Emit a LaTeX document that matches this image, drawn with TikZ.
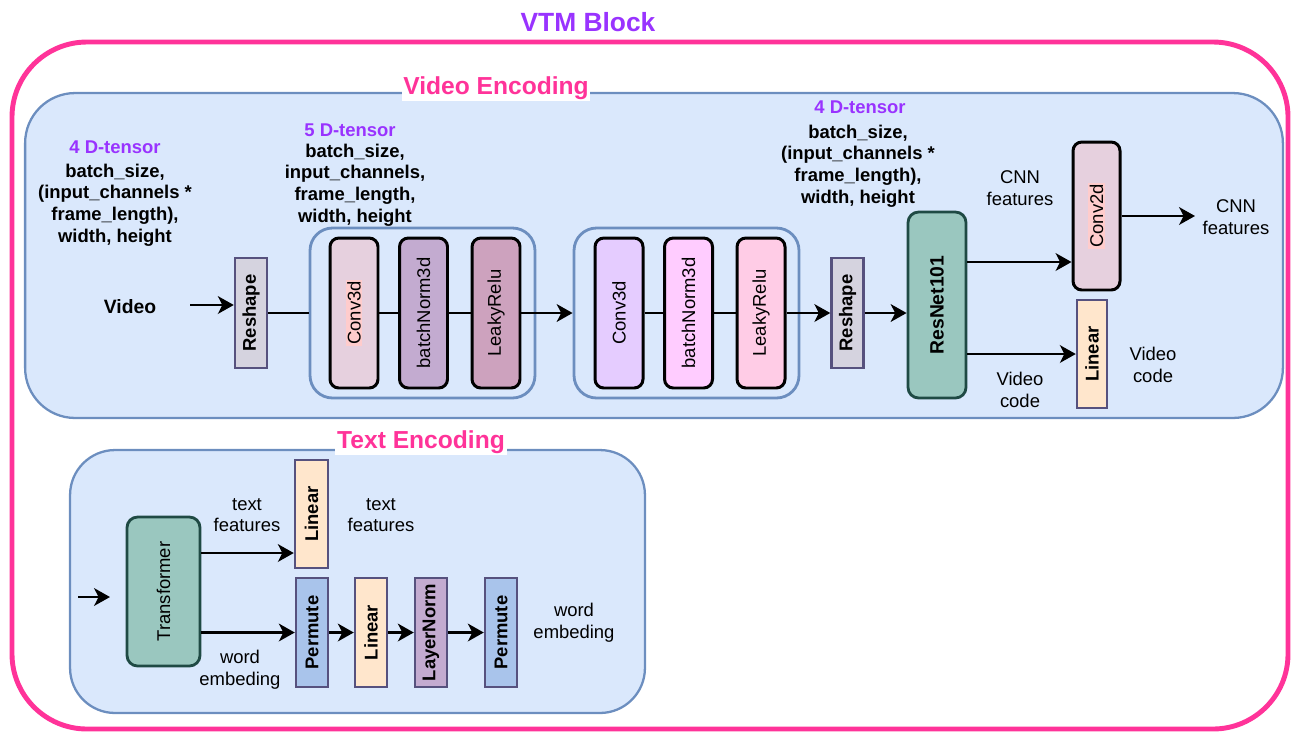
\documentclass[tikz,border=0pt]{standalone}
\usepackage{fontspec}
\setmainfont{Liberation Sans}
\usepackage{graphicx}
\usetikzlibrary{arrows.meta,positioning}
\definecolor{vtmpink}{HTML}{FF3399}
\definecolor{vtmpurple}{HTML}{9933FF}
\definecolor{encfill}{HTML}{DAE8FC}
\definecolor{encline}{HTML}{6C8EBF}
\definecolor{flatline}{HTML}{56517E}
\definecolor{tealfill}{HTML}{9AC7BF}
\definecolor{tealline}{HTML}{1F4A44}
\definecolor{hlpink}{HTML}{FFCCCC}
\newcommand{\txt}{\fontsize{10.5}{12.3}\selectfont}
\newcommand{\vlabel}[1]{\rotatebox{90}{#1}}
\newcommand{\hl}[1]{{\setlength{\fboxsep}{0.8pt}\colorbox{hlpink}{#1}}}

\begin{document}
\begin{tikzpicture}[x=0.02cm,y=-0.02cm,
		arr/.style={-{Stealth[length=9pt,width=10pt,inset=2.5pt]},line width=1.6pt},
		ln/.style={line width=1.6pt},
		panel/.style={draw=encline,fill=encfill,line width=1.3pt,rounded corners=1cm,inner sep=0pt},
		grp/.style={draw=encline,fill=encfill,line width=1.6pt,rounded corners=0.45cm,minimum width=4.5cm,minimum height=3.4cm},
		layer/.style={draw=black,line width=1.7pt,rounded corners=5pt,minimum width=0.96cm,minimum height=3cm,inner sep=0pt,font=\txt},
		flat/.style={draw=flatline,line width=1.4pt,minimum width=0.64cm,minimum height=2.2cm,inner sep=0pt,font=\txt\bfseries},
		net/.style={draw=tealline,fill=tealfill,line width=1.6pt,rounded corners=6pt,inner sep=0pt},
		title/.style={font=\fontsize{14}{16}\selectfont\bfseries,text=vtmpink},
		dim/.style={font=\txt\bfseries,text=vtmpurple},
		info/.style={font=\txt\bfseries,align=center},
		note/.style={font=\txt,align=center}]
	\useasboundingbox (0,0) rectangle (1293,735);
	\node[font=\fontsize{15}{17}\selectfont\bfseries,text=vtmpurple] (vtm) at (588,22) {VTM Block};
	\draw[vtmpink,line width=2.8pt,rounded corners=1.5cm] (12,42) rectangle (1288,729);

	\node[panel,minimum width=25.16cm,minimum height=6.5cm] (venc) at (654,255.5) {};
	\node[title,fill=white,inner sep=1pt] (ventitle) at (496,88) {Video Encoding};
	\node[panel,rounded corners=0.9cm,minimum width=11.5cm,minimum height=5.26cm] (tenc) at (357.5,581.5) {};
	\node[title,fill=white,inner sep=1pt] (tentitle) at (421,442) {Text Encoding};

	% video encoding
	\node[dim] (d4a) at (115,147) {4 D-tensor};
	\node[info] (s4a) at (115,205) {batch\_size,\\(input\_channels *\\frame\_length),\\width, height};
	\node[dim] (d5) at (350,130) {5 D-tensor};
	\node[info] (s5) at (355,185) {batch\_size,\\input\_channels,\\frame\_length,\\width, height};
	\node[dim] (d4b) at (860,107) {4 D-tensor};
	\node[info] (s4b) at (858,166) {batch\_size,\\(input\_channels *\\frame\_length),\\width, height};

	\node[font=\fontsize{11}{13}\selectfont\bfseries] (video) at (130,307) {Video};
	\coordinate (vin) at (190,305);
	\node[flat,fill=flatline!25] (rs1) at (251,313) {\vlabel{Reshape}};

	\node[grp] (g1) at (422.5,313) {};
	\node[layer,fill={rgb,255:red,230;green,208;blue,222}] (c1) at (354,313) {\vlabel{\hl{Conv3d}}};
	\node[layer,fill={rgb,255:red,195;green,171;blue,208}] (b1) at (423.5,313) {\vlabel{batchNorm3d}};
	\node[layer,fill={rgb,255:red,205;green,162;blue,190}] (l1) at (496,313) {\vlabel{LeakyRelu}};

	\node[grp] (g2) at (686.5,313) {};
	\node[layer,fill={rgb,255:red,229;green,204;blue,255}] (c2) at (619,313) {\vlabel{Conv3d}};
	\node[layer,fill={rgb,255:red,255;green,204;blue,255}] (b2) at (688.5,313) {\vlabel{batchNorm3d}};
	\node[layer,fill={rgb,255:red,255;green,204;blue,230}] (l2) at (761,313) {\vlabel{LeakyRelu}};

	\node[flat,fill=flatline!25] (rs2) at (847.5,313) {\vlabel{Reshape}};
	\node[net,minimum width=1.16cm,minimum height=3.72cm,font=\fontsize{11}{13}\selectfont\bfseries] (res) at (937,305) {\vlabel{ResNet101}};
	\node[layer,fill={rgb,255:red,230;green,208;blue,222},minimum width=0.94cm,minimum height=2.96cm] (cv2) at (1096.5,216) {\vlabel{\hl{Conv2d}}};
	\node[flat,fill={rgb,255:red,255;green,230;blue,204},minimum width=0.6cm,minimum height=2.16cm] (linv) at (1092,354) {\vlabel{Linear}};
	\coordinate (cnnout) at (1195,216);
	\coordinate (ycnn) at (0,262);

	\node[note] (cnnf) at (1020,188) {CNN\\features};
	\node[note] (cnno) at (1236,217) {CNN\\features};
	\node[note] (vcode) at (1020,390) {Video\\code};
	\node[note] (vcodeo) at (1153,365) {Video\\code};

	\path[arr] (vin) edge (rs1.west |- vin);
	\path[ln] (rs1) edge (g1)
		(c1) edge (b1)
		(b1) edge (l1)
		(c2) edge (b2)
		(b2) edge (l2);
	\path[arr] (l1) edge (g2)
		(l2) edge (rs2)
		(rs2) edge (res.west |- rs2)
		(res.east |- ycnn) edge (cv2.west |- ycnn)
		(cv2) edge (cnnout)
		(res.east |- linv) edge (linv);

	% text encoding
	\coordinate (tin) at (78,597);
	\coordinate (tinend) at (110,597);
	\coordinate (ytf) at (0,553);
	\node[net,minimum width=1.46cm,minimum height=2.98cm,font=\txt] (tr) at (163.5,591.5) {\vlabel{Transformer}};
	\node[flat,fill={rgb,255:red,255;green,230;blue,204},minimum width=0.66cm,minimum height=2.16cm] (lint) at (311.5,514) {\vlabel{Linear}};
	\node[flat,fill={rgb,255:red,169;green,196;blue,235},minimum height=2.18cm] (p1) at (312,632.5) {\vlabel{Permute}};
	\node[flat,fill={rgb,255:red,255;green,230;blue,204},minimum height=2.18cm] (lin2) at (371,632.5) {\vlabel{Linear}};
	\node[flat,fill={rgb,255:red,195;green,171;blue,208},minimum height=2.18cm] (lnorm) at (431,632.5) {\vlabel{LayerNorm}};
	\node[flat,fill={rgb,255:red,169;green,196;blue,235},minimum height=2.18cm] (p2) at (501,632.5) {\vlabel{Permute}};

	\node[note] (tf) at (247,515) {text\\features};
	\node[note] (tfo) at (381,515) {text\\features};
	\node[note] (we) at (240,670) {word\\embeding};
	\node[note] (weo) at (574,623) {word\\embeding};

	\path[arr] (tin) edge (tinend)
		(tr.east |- ytf) edge (lint.west |- ytf)
		(tr.east |- p1) edge (p1)
		(p1) edge (lin2)
		(lin2) edge (lnorm)
		(lnorm) edge (p2);
\end{tikzpicture}
\end{document}
